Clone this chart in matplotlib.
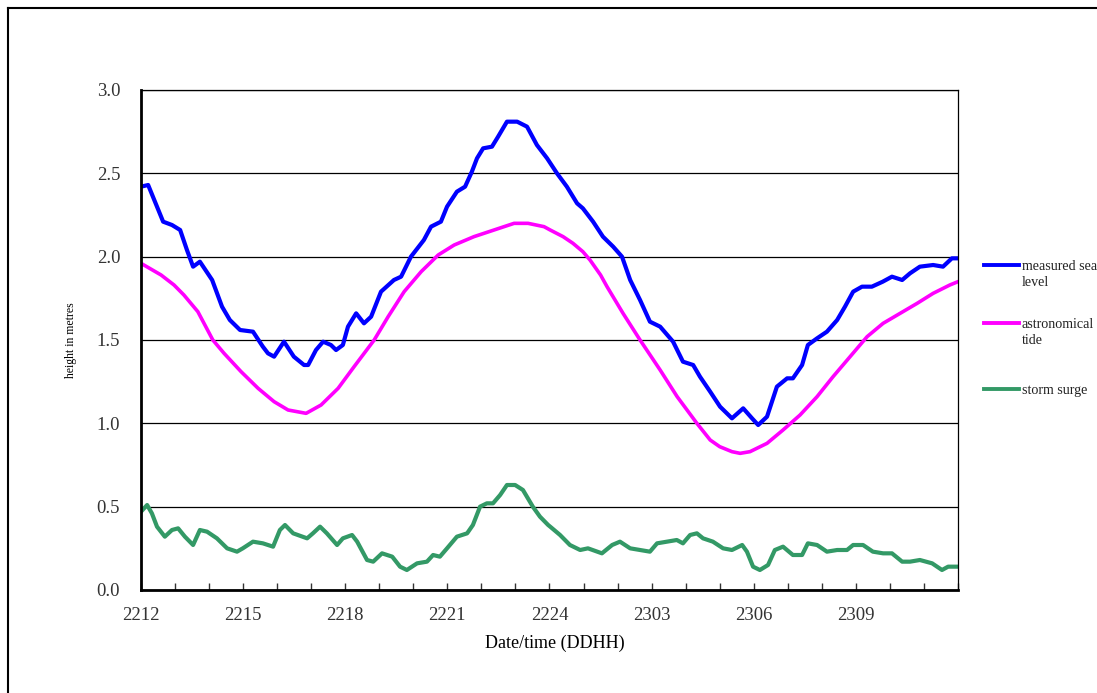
import matplotlib
matplotlib.use("Agg")
import matplotlib.pyplot as plt
from matplotlib.lines import Line2D

# Hours after 22/12 (DDHH) and heights in metres
measured_hours = [0.0, 0.21, 0.41, 0.65, 0.91, 1.15, 1.35, 1.53, 1.73, 2.09, 2.38, 2.61, 2.91,
                  3.29, 3.58, 3.73, 3.91, 4.20, 4.49, 4.79, 4.91, 5.14, 5.35, 5.58, 5.73, 5.93,
                  6.08, 6.32, 6.55, 6.76, 7.05, 7.43, 7.64, 7.93, 8.31, 8.52, 8.81, 8.99, 9.28,
                  9.52, 9.72, 9.87, 10.05, 10.31, 10.49, 10.75, 11.05, 11.34, 11.63, 11.93,
                  12.22, 12.51, 12.81, 12.98, 13.28, 13.57, 13.87, 14.13, 14.37, 14.66, 14.95,
                  15.25, 15.63, 15.92, 16.22, 16.42, 16.72, 17.01, 17.36, 17.69, 17.95, 18.13,
                  18.39, 18.68, 18.98, 19.15, 19.42, 19.59, 19.86, 20.15, 20.45, 20.68, 20.92,
                  21.18, 21.47, 21.79, 22.06, 22.36, 22.59, 22.88, 23.27, 23.56, 23.82, 24.0]
measured_level = [2.42, 2.43, 2.33, 2.21, 2.19, 2.16, 2.04, 1.94, 1.97, 1.86, 1.70, 1.62, 1.56,
                  1.55, 1.46, 1.42, 1.40, 1.49, 1.40, 1.35, 1.35, 1.44, 1.49, 1.47, 1.44, 1.47,
                  1.58, 1.66, 1.60, 1.64, 1.79, 1.86, 1.88, 2.00, 2.10, 2.18, 2.21, 2.30, 2.39,
                  2.42, 2.51, 2.59, 2.65, 2.66, 2.72, 2.81, 2.81, 2.78, 2.67, 2.59,
                  2.50, 2.42, 2.32, 2.29, 2.21, 2.12, 2.06, 2.00, 1.86, 1.74, 1.61,
                  1.58, 1.49, 1.37, 1.35, 1.28, 1.19, 1.10, 1.03, 1.09, 1.03, 0.99,
                  1.04, 1.22, 1.27, 1.27, 1.35, 1.47, 1.51, 1.55, 1.62, 1.70, 1.79,
                  1.82, 1.82, 1.85, 1.88, 1.86, 1.90, 1.94, 1.95, 1.94, 1.99, 1.99]

tide_hours = [0.0, 0.59, 0.97, 1.26, 1.67, 2.11, 2.44, 2.94, 3.44, 3.91, 4.32, 4.85, 5.29, 5.79,
              6.26, 6.85, 7.26, 7.73, 8.23, 8.73, 9.20, 9.78, 10.37, 10.96, 11.37, 11.84, 12.02,
              12.40, 12.69, 12.98, 13.19, 13.50, 13.69, 14.16, 14.66, 15.25, 15.75, 16.33,
              16.72, 17.0, 17.36, 17.6, 17.89, 18.39, 18.86, 19.36, 19.86, 20.33, 20.83,
              21.33, 21.80, 22.30, 22.80, 23.27, 23.76, 24.0]
tide_level = [1.96, 1.89, 1.83, 1.77, 1.67, 1.50, 1.42, 1.31, 1.21, 1.13, 1.08, 1.06, 1.11, 1.21,
              1.34, 1.50, 1.64, 1.79, 1.91, 2.01, 2.07, 2.12, 2.16, 2.20, 2.20, 2.18, 2.16,
              2.12, 2.08, 2.03, 1.98, 1.89, 1.82, 1.66, 1.50, 1.32, 1.16, 1.00,
              0.90, 0.86, 0.83, 0.82, 0.83, 0.88, 0.96, 1.05, 1.16, 1.28, 1.40,
              1.52, 1.60, 1.66, 1.72, 1.78, 1.83, 1.85]

surge_hours = [0.0, 0.18, 0.32, 0.47, 0.70, 0.91, 1.09, 1.29, 1.53, 1.73, 1.94, 2.23, 2.53, 2.82,
               2.99, 3.29, 3.58, 3.88, 4.08, 4.23, 4.47, 4.88, 5.05, 5.26, 5.46, 5.76, 5.93,
               6.20, 6.35, 6.64, 6.82, 7.08, 7.38, 7.61, 7.81, 8.11, 8.40, 8.58, 8.78, 8.99,
               9.28, 9.58, 9.75, 9.96, 10.16, 10.34, 10.55, 10.75, 10.99, 11.22, 11.51, 11.72,
               11.96, 12.02, 12.31, 12.60, 12.90, 13.13, 13.54, 13.84, 14.07, 14.37, 14.66,
               14.95, 15.16, 15.45, 15.74, 15.92, 16.13, 16.33, 16.51, 16.80, 17.10, 17.36,
               17.66, 17.80, 17.98, 18.18, 18.42, 18.62, 18.86, 19.15, 19.42, 19.59, 19.86,
               20.15, 20.45, 20.74, 20.92, 21.21, 21.50, 21.80, 22.06, 22.36, 22.59, 22.88,
               23.24, 23.53, 23.71, 24.0]
surge_level = [0.47, 0.51, 0.46, 0.38, 0.32, 0.36, 0.37, 0.32, 0.27, 0.36, 0.35, 0.31, 0.25, 0.23,
               0.25, 0.29, 0.28, 0.26, 0.36, 0.39, 0.34, 0.31, 0.34, 0.38, 0.34, 0.27, 0.31,
               0.33, 0.29, 0.18, 0.17, 0.22, 0.20, 0.14, 0.12, 0.16, 0.17, 0.21, 0.20, 0.25,
               0.32, 0.34, 0.39, 0.50, 0.52, 0.52, 0.57, 0.63, 0.63, 0.60, 0.50, 0.44,
               0.39, 0.38, 0.33, 0.27, 0.24, 0.25, 0.22, 0.27, 0.29, 0.25, 0.24,
               0.23, 0.28, 0.29, 0.30, 0.28, 0.33, 0.34, 0.31, 0.29, 0.25, 0.24,
               0.27, 0.23, 0.14, 0.12, 0.15, 0.24, 0.26, 0.21, 0.21, 0.28, 0.27,
               0.23, 0.24, 0.24, 0.27, 0.27, 0.23, 0.22, 0.22, 0.17, 0.17, 0.18,
               0.16, 0.12, 0.14, 0.14]

tick_hours = [0, 3, 6, 9, 12, 15, 18, 21]
tick_labels = ["2212", "2215", "2218", "2221", "2224", "2303", "2306", "2309"]

series_labels = ["measured sea\nlevel", "astronomical\ntide", "storm surge"]
series_colors = ["#0000FF", "#FF00FF", "#339966"]

plt.rcParams["font.family"] = ["Liberation Serif", "DejaVu Serif"]

fig = plt.figure(figsize=(10.97, 6.93), dpi=100)
ax = fig.add_axes([141 / 1097, 103 / 693, 817 / 1097, 500 / 693])

ax.plot(measured_hours, measured_level, color=series_colors[0], lw=3.0, solid_joinstyle="round")
ax.plot(tide_hours, tide_level, color=series_colors[1], lw=2.6, solid_joinstyle="round")
ax.plot(surge_hours, surge_level, color=series_colors[2], lw=3.0, solid_joinstyle="round")

ax.set_xlim(0, 24)
ax.set_ylim(0, 3.0)
ax.set_yticks([0, 0.5, 1.0, 1.5, 2.0, 2.5, 3.0])
ax.set_yticklabels(["%.1f" % v for v in [0, 0.5, 1.0, 1.5, 2.0, 2.5, 3.0]])
ax.set_xticks(tick_hours)
ax.set_xticklabels(tick_labels)
ax.set_xticks(range(0, 25), minor=True)
ax.grid(axis="y", color="black", lw=0.9)
ax.set_axisbelow(True)

ax.tick_params(axis="x", which="both", direction="in", length=5, width=1, pad=12,
               labelsize=13.5, colors="#333333")
ax.tick_params(axis="y", length=0, pad=15, labelsize=13.5, labelcolor="#333333")

for side in ["left", "bottom"]:
    ax.spines[side].set_linewidth(2)
for side in ["top", "right"]:
    ax.spines[side].set_linewidth(0.9)

ax.set_xlabel("Date/time (DDHH)", fontsize=13)
ax.xaxis.set_label_coords(0.507, -0.09)
ax.set_ylabel("height in metres", fontsize=8.5)
ax.yaxis.set_label_coords(-0.078, 0.5)

# legend drawn by hand so the line sits at the first text line
legend_y = [265, 323, 389]
for label, color, py in zip(series_labels, series_colors, legend_y):
    yf = 1 - py / 693
    fig.add_artist(Line2D([984 / 1097, 1019 / 1097], [yf, yf], color=color, lw=2.8))
    fig.text(1022 / 1097, yf + 5 / 693, label, fontsize=10.1, va="top", ha="left",
             color="#222222", linespacing=1.35)

# outer chart border (only top and left edges fall inside the picture)
fig.add_artist(Line2D([8 / 1097, 8 / 1097], [0, 1 - 8 / 693], color="black", lw=1.5))
fig.add_artist(Line2D([8 / 1097, 1], [1 - 8 / 693, 1 - 8 / 693], color="black", lw=1.5))

fig.savefig("out.png", dpi=100)
